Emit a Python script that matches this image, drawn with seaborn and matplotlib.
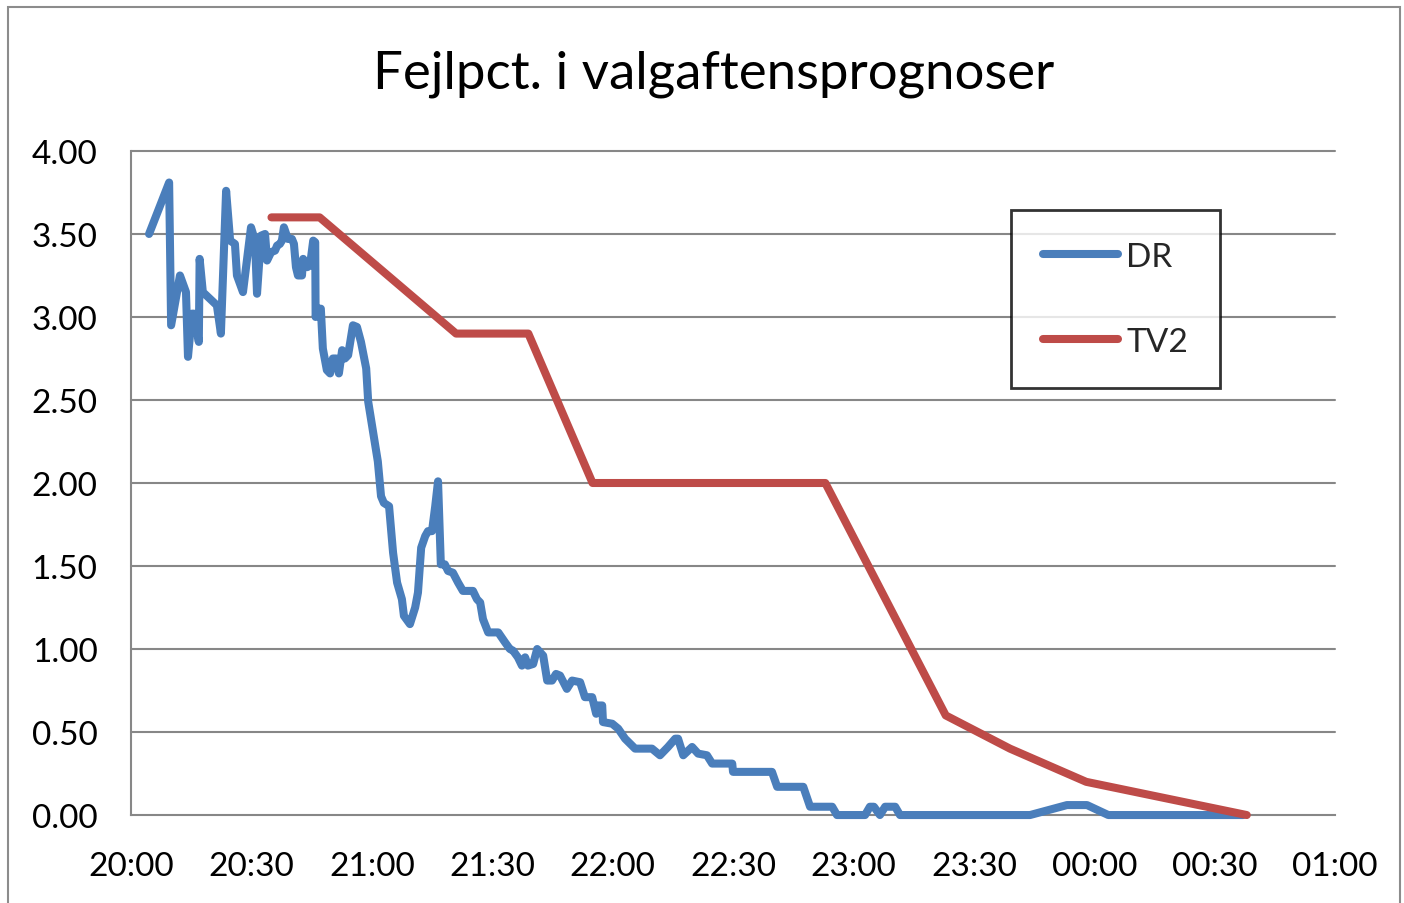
import matplotlib
matplotlib.use("Agg")
import matplotlib.pyplot as plt
import matplotlib.patches as mpatches
from matplotlib.lines import Line2D
import seaborn as sns
import pandas as pd

# minutes after 20:00
dr_minutes = [4.5, 9.5, 10.0, 12.2, 13.7, 14.2, 15.2, 15.7, 16.9, 17.1, 17.9, 21.4, 22.4,
              23.7, 24.7, 25.9, 26.4, 27.9, 29.9, 30.9, 31.4, 32.4, 33.4, 33.9, 34.9, 35.9,
              36.4, 37.1, 37.6, 38.1, 39.1, 40.1, 40.6, 41.1, 41.6, 42.6, 42.9, 43.9, 44.6,
              45.4, 45.9, 46.0, 46.6, 47.3, 47.8, 48.8, 49.6, 50.3, 51.1, 51.8, 52.6, 53.3,
              54.1, 55.3, 56.3, 57.3, 58.6, 59.1, 60.3, 61.5, 62.3, 63.0, 64.3, 65.3, 66.3,
              67.5, 68.0, 69.5, 70.8, 71.5, 72.3, 73.3, 74.0, 75.0, 75.8, 76.5, 77.2, 78.2,
              79.0, 80.2, 81.5, 82.7, 85.2, 86.2, 87.0, 87.7, 89.0, 91.5, 93.2, 94.4, 95.2,
              96.4, 97.4, 98.2, 98.9, 100.2, 101.2, 102.7, 103.7, 104.9, 105.9, 106.9, 108.6,
              109.9, 111.9, 113.1, 114.9, 115.9, 116.4, 117.4, 117.6, 119.9, 121.4, 123.1,
              125.6, 129.8, 131.8, 133.8, 135.6, 136.3, 137.6, 139.8, 141.3, 143.5, 144.8,
              149.8, 150.0, 159.7, 161.0, 167.5, 169.2, 174.7, 175.9, 182.9, 184.1, 185.1,
              186.6, 187.9, 190.4, 191.6, 224.0, 233.2, 238.2, 243.5, 277.1]
dr_values = [3.50, 3.81, 2.95, 3.25, 3.15, 2.76, 3.02, 3.02, 2.85, 3.35, 3.15, 3.07, 2.90,
             3.76, 3.46, 3.44, 3.25, 3.15, 3.54, 3.46, 3.14, 3.49, 3.50, 3.34, 3.39, 3.40,
             3.43, 3.44, 3.46, 3.54, 3.47, 3.47, 3.44, 3.30, 3.25, 3.25, 3.35, 3.30, 3.31,
             3.46, 3.45, 3.00, 3.05, 3.05, 2.81, 2.68, 2.66, 2.75, 2.75, 2.66, 2.80, 2.75,
             2.77, 2.95, 2.94, 2.85, 2.69, 2.49, 2.31, 2.13, 1.92, 1.88, 1.86, 1.58, 1.40,
             1.30, 1.20, 1.15, 1.25, 1.34, 1.61, 1.68, 1.71, 1.71, 1.86, 2.01, 1.51, 1.51,
             1.47, 1.46, 1.40, 1.35, 1.35, 1.30, 1.28, 1.18, 1.10, 1.10, 1.04, 1.00, 0.99,
             0.95, 0.90, 0.95, 0.90, 0.91, 1.00, 0.96, 0.81, 0.81, 0.85, 0.84, 0.76,
             0.81, 0.80, 0.71, 0.71, 0.61, 0.66, 0.66, 0.56, 0.55, 0.52, 0.46,
             0.40, 0.40, 0.36, 0.41, 0.46, 0.46, 0.36, 0.41, 0.37, 0.36, 0.31,
             0.31, 0.26, 0.26, 0.17, 0.17, 0.05, 0.05, 0.00, 0.00, 0.05, 0.05,
             0.00, 0.05, 0.05, 0.00, 0.00, 0.06, 0.06, 0.00, 0.00]

tv2_minutes = [35, 47, 81, 99, 115, 173, 203, 219, 238, 278]
tv2_values = [3.60, 3.60, 2.90, 2.90, 2.00, 2.00, 0.60, 0.40, 0.20, 0.00]

x_ticks = [0, 30, 60, 90, 120, 150, 180, 210, 240, 270, 300]
x_labels = ["20:00", "20:30", "21:00", "21:30", "22:00", "22:30",
            "23:00", "23:30", "00:00", "00:30", "01:00"]
y_ticks = [0.0, 0.5, 1.0, 1.5, 2.0, 2.5, 3.0, 3.5, 4.0]

DR_COLOR = "#4A7EBB"
TV2_COLOR = "#BE4B48"
GRID = "#878787"
LW = 5.8

sns.set_style("white")
plt.rcParams["font.family"] = ["Lato", "DejaVu Sans"]

dr = pd.DataFrame({"t": dr_minutes, "v": dr_values})
tv2 = pd.DataFrame({"t": tv2_minutes, "v": tv2_values})

fig = plt.figure(figsize=(14.04, 9.04), dpi=100)
ax = fig.add_axes([0.0933, 0.0973, 0.8576, 0.7346])

sns.lineplot(data=dr, x="t", y="v", ax=ax, color=DR_COLOR, linewidth=LW,
             sort=False, estimator=None, clip_on=False, zorder=3,
             solid_capstyle="round")
sns.lineplot(data=tv2, x="t", y="v", ax=ax, color=TV2_COLOR, linewidth=LW,
             sort=False, estimator=None, clip_on=False, zorder=4,
             solid_capstyle="round")

ax.set_xlim(0, 300)
ax.set_ylim(0, 4)
ax.set_xticks(x_ticks)
ax.set_xticklabels(x_labels)
ax.set_yticks(y_ticks)
ax.set_yticklabels([f"{v:.2f}" for v in y_ticks])
ax.set_xlabel("")
ax.set_ylabel("")

for y in y_ticks[1:]:
    ax.axhline(y, color=GRID, linewidth=1.5, zorder=1, clip_on=False)

for side in ["top", "right"]:
    ax.spines[side].set_visible(False)
for side in ["left", "bottom"]:
    ax.spines[side].set_color(GRID)
    ax.spines[side].set_linewidth(1.5)

ax.tick_params(axis="both", which="major", direction="out", length=8, width=1.5,
               color=GRID, labelsize=24, labelcolor="black")
ax.tick_params(axis="y", pad=16)
ax.tick_params(axis="x", pad=18)

handles = [Line2D([], [], color=DR_COLOR, linewidth=LW, solid_capstyle="round"),
           Line2D([], [], color=TV2_COLOR, linewidth=LW, solid_capstyle="round")]
leg = ax.legend(handles, ["DR", "TV2"], loc="upper left", bbox_to_anchor=(0.731, 0.911),
                fontsize=24, frameon=True, fancybox=False, edgecolor="black",
                borderpad=0.95, labelspacing=1.65, handlelength=2.25, handletextpad=0.25,
                borderaxespad=0)
leg.get_frame().set_linewidth(2)

fig.text(0.5085, 0.918, "Fejlpct. i valgaftensprognoser", ha="center", va="center",
         fontsize=38, color="black")

border = mpatches.Rectangle((8 / 1404, -0.1), (1400 - 8) / 1404, 1.1 - 8 / 904,
                            transform=fig.transFigure, fill=False, edgecolor="#8c8c8c",
                            linewidth=1.5)
fig.patches.append(border)

fig.savefig("out.png", dpi=100)
